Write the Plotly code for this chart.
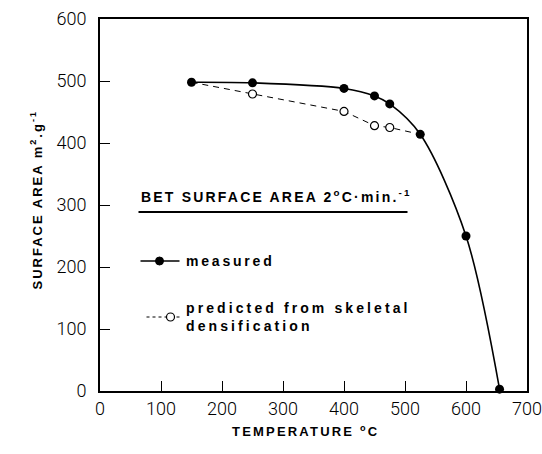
import plotly.graph_objects as go

# BET surface area vs. temperature (heating rate 2 °C/min)
measured_temp = [150, 250, 400, 450, 475, 525, 600, 655]
measured_area = [498, 497, 488, 476, 463, 414, 250, 3]

# predicted from skeletal densification (dashed curve runs from the 150 °C
# measured point to the 525 °C measured point)
predicted_temp = [150, 250, 400, 450, 475, 525]
predicted_area = [498, 479, 451, 428, 425, 414]

x_ticks = [0, 100, 200, 300, 400, 500, 600, 700]
y_ticks = [0, 100, 200, 300, 400, 500, 600]

TICK_FONT = dict(family="Roboto, sans-serif", size=18, color="black", weight=300)
BOLD = "Liberation Sans, Arial, sans-serif"


def bold_font(size):
    return dict(family=BOLD, size=size, color="black", weight="bold")


def spaced(text, px=2.5):
    return f'<span style="letter-spacing:{px}px">{text}</span>'


fig = go.Figure()

# dashed prediction line
fig.add_trace(go.Scatter(
    x=predicted_temp, y=predicted_area, mode="lines",
    line=dict(color="black", width=1, dash="6px,5px"),
    hoverinfo="skip", showlegend=False))
# open circles (interior predicted points only)
fig.add_trace(go.Scatter(
    x=predicted_temp[1:-1], y=predicted_area[1:-1], mode="markers",
    marker=dict(symbol="circle", size=8, color="white",
                line=dict(color="black", width=1.2)),
    showlegend=False))
# measured curve
fig.add_trace(go.Scatter(
    x=measured_temp, y=measured_area, mode="lines+markers",
    line=dict(color="black", width=1.6, shape="spline", smoothing=0.9),
    marker=dict(symbol="circle", size=9, color="black"),
    showlegend=False, cliponaxis=False))

axis_common = dict(
    showgrid=False, zeroline=False, showline=True, linecolor="black",
    linewidth=2, mirror=True, ticks="inside", ticklen=10, tickwidth=1.2,
    tickcolor="black", tickfont=TICK_FONT, automargin=False)

fig.update_xaxes(range=[0, 700], tickvals=x_ticks,
                 ticktext=[str(v) for v in x_ticks], **axis_common)
fig.update_yaxes(range=[0, 600], tickvals=y_ticks,
                 ticktext=[str(v) for v in y_ticks], ticklabelstandoff=8,
                 **axis_common)


def px_x(x):
    return (x - 100.5) / 427.0


def px_y(y):
    return (391.0 - y) / 372.0


annotations = [
    # axis titles
    dict(x=px_x(27), y=px_y(200), xref="paper", yref="paper",
         text=spaced("SURFACE AREA m<sup>2</sup>.g<sup>-1</sup>", 2.0),
         textangle=-90, showarrow=False, font=bold_font(13)),
    dict(x=px_x(306), y=px_y(441), xref="paper", yref="paper",
         text=spaced("TEMPERATURE <sup>o</sup>C", 2.2),
         showarrow=False, font=bold_font(13)),
    # key heading
    dict(x=px_x(139), y=px_y(196), xref="paper", yref="paper",
         xanchor="left", yanchor="middle",
         text=spaced("BET SURFACE AREA 2<sup>o</sup>C·min.<sup>-1</sup>", 2.2),
         showarrow=False, font=bold_font(14)),
    dict(x=px_x(184), y=px_y(261), xref="paper", yref="paper",
         xanchor="left", yanchor="middle", text=spaced("measured", 2.8),
         showarrow=False, font=bold_font(14)),
    dict(x=px_x(184), y=px_y(317), xref="paper", yref="paper",
         xanchor="left", yanchor="middle",
         text=spaced("predicted from skeletal", 3.1) + "<br>" + spaced("densification", 3.1),
         align="left", showarrow=False, font=bold_font(14)),
]

shapes = [
    # heading underline
    dict(type="line", xref="paper", yref="paper",
         x0=px_x(139), x1=px_x(408), y0=px_y(212), y1=px_y(212),
         line=dict(color="black", width=2)),
    # measured key sample
    dict(type="line", xref="paper", yref="paper",
         x0=px_x(141), x1=px_x(180), y0=px_y(261), y1=px_y(261),
         line=dict(color="black", width=1.6)),
    dict(type="circle", xref="paper", yref="paper", fillcolor="black",
         x0=px_x(156), x1=px_x(164), y0=px_y(265), y1=px_y(257),
         line=dict(color="black", width=1)),
    # predicted key sample
    dict(type="line", xref="paper", yref="paper",
         x0=px_x(147), x1=px_x(183), y0=px_y(317), y1=px_y(317),
         line=dict(color="black", width=1, dash="dot")),
    dict(type="circle", xref="paper", yref="paper", fillcolor="white",
         x0=px_x(167), x1=px_x(175), y0=px_y(321), y1=px_y(313),
         line=dict(color="black", width=1.2)),
]

fig.update_layout(
    width=542, height=454,
    margin=dict(l=100, r=15, t=19, b=63, autoexpand=False),
    paper_bgcolor="white", plot_bgcolor="white",
    annotations=annotations, shapes=shapes, showlegend=False)

fig.write_html("out.html")
